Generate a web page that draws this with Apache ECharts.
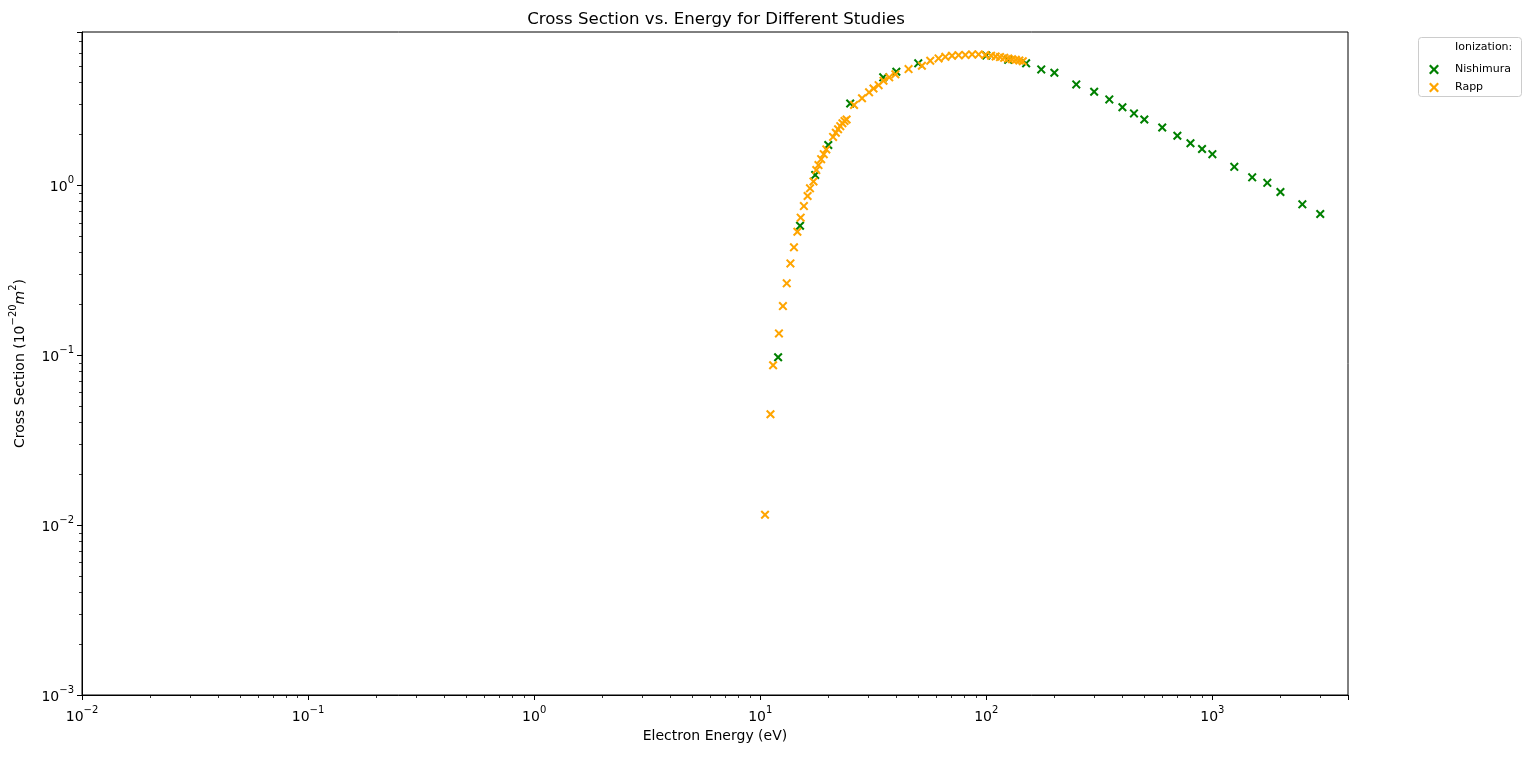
<!DOCTYPE html>
<html>
<head>
<meta charset="utf-8">
<script src="https://cdn.jsdelivr.net/npm/echarts@6/dist/echarts.min.js"></script>
<style>
    html, body { margin: 0; padding: 0; background: #fff; }
    #main { width: 1536px; height: 762px; }
</style>
</head>
<body>
<div id="main"></div>
<script>
    // data (energy in eV, cross section in 1e-20 m^2)
    var nishimuraEnergy = [12, 15, 17.5, 20, 25, 35, 40, 50, 100, 125, 150, 175, 200, 250, 300, 350, 400, 450, 500,
        600, 700, 800, 900, 1000, 1250, 1500, 1750, 2000, 2500, 3000];
    var nishimuraCross = [0.097, 0.576, 1.145, 1.72, 3.02, 4.3, 4.64, 5.2, 5.78, 5.45, 5.2, 4.79, 4.58, 3.91, 3.54, 3.19, 2.87, 2.64, 2.43,
        2.18, 1.95, 1.76, 1.63, 1.52, 1.28, 1.11, 1.03, 0.91, 0.77, 0.675];

    var rappEnergy = [10.5, 11.1, 11.4, 12.1, 12.6, 13.1, 13.6, 14.1, 14.6, 15.1, 15.6, 16.2, 16.6, 17.2, 17.7, 18.1, 18.6, 19.1, 19.6,
        21, 21.6, 22.1, 22.6, 23.1, 23.6, 24.1, 26, 28.2, 30.3, 31.7, 33.4, 35.1, 37.2, 39.6, 45.3, 51.9, 56.5, 61.5, 65.9, 70.5,
        75.4, 80.8, 86.5, 92.5, 99, 105, 110, 115, 120, 125, 130, 135, 140, 145];
    var rappCross = [0.0115, 0.0448, 0.087, 0.134, 0.194, 0.264, 0.346, 0.43, 0.531, 0.643, 0.752, 0.862, 0.956, 1.05, 1.225, 1.31, 1.42, 1.52, 1.62,
        1.92, 2.03, 2.13, 2.22, 2.31, 2.38, 2.43, 2.96, 3.24, 3.51, 3.7, 3.87, 4.11, 4.3, 4.48, 4.81, 5.03, 5.39, 5.56, 5.68, 5.76,
        5.81, 5.83, 5.87, 5.87, 5.82, 5.76, 5.7, 5.66, 5.6, 5.55, 5.5, 5.45, 5.4, 5.35];

    var xRange = [0.01, 3980];
    var yRange = [0.001, 7.95];
    var xDecades = [-2, -1, 0, 1, 2, 3];
    var yDecades = [-3, -2, -1, 0];

    var FONT = 'DejaVu Sans';
    // matplotlib style "x" marker as a filled path
    var cross = 'path://M0,1.6L1.6,0L5,3.4L8.4,0L10,1.6L6.6,5L10,8.4L8.4,10L5,6.6L1.6,10L0,8.4L3.4,5Z';

    // "10" with a raised exponent, like matplotlib mathtext
    var powRich = {
        b: { fontFamily: FONT, fontSize: 14, color: '#000', lineHeight: 19, verticalAlign: 'bottom' },
        s: { fontFamily: FONT, fontSize: 10, color: '#000', lineHeight: 10, verticalAlign: 'top' }
    };
    function powLabel(v) {
        var e = Math.log10(v);
        if (Math.abs(e - Math.round(e)) > 1e-6) return '';
        return '{b|10}{s|' + String(Math.round(e)).replace('-', '\u2212') + '}';
    }
    // minor tick positions (log10 of 2..9 x 10^n) for the overlay axes
    function minorTicks(decades, lim) {
        var out = [];
        decades.forEach(function (d) {
            for (var k = 2; k <= 9; k++) {
                var v = k * Math.pow(10, d);
                if (v <= lim) out.push(Math.log10(v));
            }
        });
        return out;
    }

    var myChart = echarts.init(document.getElementById('main'));
    var option = {
        animation: false,
        backgroundColor: '#fff',
        title: {
            text: 'Cross Section vs. Energy for Different Studies',
            left: 711, top: 6, textAlign: 'center',
            textStyle: { fontFamily: FONT, fontSize: 16.6, fontWeight: 'normal', color: '#000' }
        },
        grid: { left: 82, top: 32, right: 188, bottom: 67, show: true, borderColor: '#000', borderWidth: 1,
            outerBoundsMode: 'none' },
        legend: {
            orient: 'vertical', left: 1424, top: 59, z: 10,
            itemWidth: 10, itemHeight: 10, itemGap: 7,
            textStyle: { fontFamily: FONT, fontSize: 11, color: '#000', padding: [0, 0, 0, 11] },
            data: [{ name: 'Nishimura', icon: cross }, { name: 'Rapp', icon: cross }]
        },
        graphic: [
            { type: 'rect', z: 1, shape: { x: 1418.5, y: 37.5, width: 103, height: 59, r: 3 },
              style: { fill: 'rgba(255,255,255,0.8)', stroke: '#cccccc', lineWidth: 1 } },
            { type: 'text', z: 11, left: 1455, top: 42,
              style: { text: 'Ionization:', fontFamily: FONT, fontSize: 11, fill: '#000' } }
        ],
        xAxis: [{
            type: 'log', logBase: 10, min: xRange[0], max: xRange[1], position: 'bottom',
            name: 'Electron Energy (eV)', nameLocation: 'middle', nameGap: 34,
            nameTextStyle: { fontFamily: FONT, fontSize: 14, color: '#000' },
            axisLine: { onZero: false, lineStyle: { color: '#000', width: 1 } },
            axisTick: { length: 5, lineStyle: { color: '#000', width: 1 } },
            axisLabel: { margin: 10, formatter: powLabel, rich: powRich },
            splitLine: { show: false }
        }, {
            type: 'value', min: Math.log10(xRange[0]), max: Math.log10(xRange[1]), position: 'bottom',
            axisLine: { show: false, onZero: false },
            axisTick: { length: 3, customValues: minorTicks(xDecades, xRange[1]), lineStyle: { color: '#000', width: 0.8 } },
            axisLabel: { show: false }, splitLine: { show: false }
        }],
        yAxis: [{
            type: 'log', logBase: 10, min: yRange[0], max: yRange[1], position: 'left',
            name: '{a|Cross Section (10}{s|\u221220}{i|m}{s|2}{a|)}', nameLocation: 'middle', nameGap: 55,
            nameTextStyle: { rich: {
                a: { fontFamily: FONT, fontSize: 14, color: '#000', lineHeight: 19, verticalAlign: 'bottom' },
                i: { fontFamily: FONT, fontSize: 14, color: '#000', fontStyle: 'italic', lineHeight: 19, verticalAlign: 'bottom' },
                s: { fontFamily: FONT, fontSize: 10, color: '#000', lineHeight: 10, verticalAlign: 'top' }
            } },
            axisLine: { onZero: false, lineStyle: { color: '#000', width: 1 } },
            axisTick: { length: 5, lineStyle: { color: '#000', width: 1 } },
            axisLabel: { margin: 8, formatter: powLabel, rich: powRich },
            splitLine: { show: false }
        }, {
            type: 'value', min: Math.log10(yRange[0]), max: Math.log10(yRange[1]), position: 'left',
            axisLine: { show: false, onZero: false },
            axisTick: { length: 3, customValues: minorTicks(yDecades, yRange[1]), lineStyle: { color: '#000', width: 0.8 } },
            axisLabel: { show: false }, splitLine: { show: false }
        }],
        series: [{
            name: 'Nishimura', type: 'scatter', xAxisIndex: 0, yAxisIndex: 0,
            symbol: cross, symbolSize: 9, itemStyle: { color: '#008000', opacity: 1 },
            data: nishimuraEnergy.map(function (e, i) { return [e, nishimuraCross[i]]; })
        }, {
            name: 'Rapp', type: 'scatter', xAxisIndex: 0, yAxisIndex: 0,
            symbol: cross, symbolSize: 9, itemStyle: { color: '#ffa500', opacity: 1 },
            data: rappEnergy.map(function (e, i) { return [e, rappCross[i]]; })
        }]
    };
    myChart.setOption(option);
</script>
</body>
</html>
